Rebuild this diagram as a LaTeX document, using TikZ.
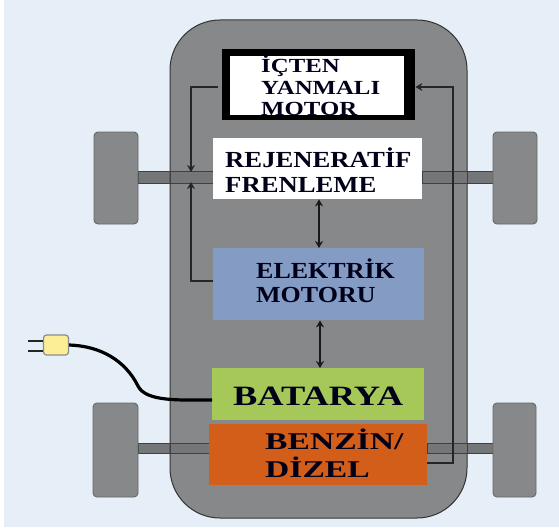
\documentclass[tikz,border=0pt]{standalone}
\usepackage{fontspec}
\setmainfont{Liberation Serif}
\usetikzlibrary{arrows.meta}
\definecolor{pagebg}{HTML}{E6EEF8}
\definecolor{carbody}{HTML}{878889}
\definecolor{motorblue}{HTML}{849BC4}
\definecolor{batgreen}{HTML}{A6C859}
\definecolor{fuelorange}{HTML}{D35E1A}
\definecolor{plugyellow}{HTML}{FBEE96}
\tikzset{
  part/.style={inner sep=0pt,anchor=north west},
  wheel/.style={draw=black!60,fill=carbody,rounded corners=4pt,line width=0.9pt},
  axle/.style={draw=black!75,fill=carbody!115,line width=1pt},
  wire/.style={line width=1.1pt,black!85},
  flow/.style={-{Stealth[length=7pt,width=8pt]},wire},
  both/.style={{Stealth[length=7pt,width=8pt]}-{Stealth[length=7pt,width=8pt]},line width=1.3pt,black!90},
  labeltext/.style n args={3}{font=\bfseries\fontsize{#1}{#2}\selectfont\addfontfeatures{FakeStretch=#3},align=left,anchor=west,text=black!90!blue,inner sep=0pt}
}
\begin{document}
\begin{tikzpicture}[x=1pt,y=-1pt]
\useasboundingbox (0,0) rectangle (559,532);
\fill[pagebg] (4,0) rectangle (559,527);
\draw[axle] (138,171) rectangle (214,183);
\draw[axle] (422,171) rectangle (493,183);
\draw[axle] (138,443) rectangle (210,453);
\draw[axle] (427,443) rectangle (493,453);
\draw[wheel] (94,132) rectangle (138,224);
\draw[wheel] (493,132) rectangle (537,224);
\draw[wheel] (93,403) rectangle (138,497);
\draw[wheel] (493,403) rectangle (536,497);
\draw[draw=black!80,fill=carbody,line width=1pt,rounded corners=50pt] (170,20) rectangle (467,518);
\draw[axle] (170,171) rectangle (214,183);
\draw[axle] (422,171) rectangle (467,183);
\draw[axle] (170,443) rectangle (210,453);
\draw[axle] (427,443) rectangle (467,453);
\node[part,fill=black,minimum width=193pt,minimum height=71pt] (engine) at (222,49) {};
\node[part,fill=white,minimum width=174pt,minimum height=59pt] (engineinner) at (230,56) {};
\node[part,fill=white,minimum width=209pt,minimum height=61pt] (regen) at (213,138) {};
\node[part,fill=motorblue,minimum width=211pt,minimum height=72pt] (motor) at (213,248) {};
\node[part,fill=batgreen,minimum width=212pt,minimum height=52pt] (battery) at (212,368) {};
\node[part,fill=fuelorange,minimum width=218pt,minimum height=61pt] (fuel) at (209,424) {};
\node[labeltext={20}{21.5}{1.24}] (enginetext) at (261,86) {İÇTEN\\YANMALI\\MOTOR};
\node[labeltext={23}{25}{1.16}] (regentext) at (225,170.5) {REJENERATİF\\FRENLEME};
\node[labeltext={23}{24.5}{1.13}] (motortext) at (256,281) {ELEKTRİK\\MOTORU};
\node[labeltext={28}{28}{1.3}] (batterytext) at (233,396) {BATARYA};
\node[labeltext={24}{28}{1.4}] (fueltext) at (265,453) {BENZİN/\\DİZEL};
\coordinate (axleup) at (191,172);
\coordinate (axledown) at (191,182);
\coordinate (leftwiretop) at (191,87);
\coordinate (leftwirebot) at (191,281);
\coordinate (rightwiretop) at (453,87);
\coordinate (rightwirebot) at (453,463);
\coordinate (enginegap) at (218,87);
\draw[flow] (enginegap) -- (leftwiretop) -- (axleup);
\draw[flow] (motor.west |- leftwirebot) -- (leftwirebot) -- (axledown);
\draw[flow] (fuel.east |- rightwirebot) -- (rightwirebot) -- (rightwiretop) -- (engine.east |- rightwiretop);
\coordinate (upperarrow) at (319,0);
\coordinate (lowerarrow) at (320,0);
\draw[both] (regen.south -| upperarrow) -- (motor.north -| upperarrow);
\draw[both] (motor.south -| lowerarrow) -- (battery.north -| lowerarrow);
\node[draw=black!45,fill=plugyellow,rounded corners=3pt,line width=1.2pt,inner sep=0pt,minimum width=25pt,minimum height=20pt] (plug) at (56,345) {};
\coordinate (prongA) at (28,341);
\coordinate (prongB) at (28,351);
\draw[wire] (prongA) -- (prongA -| plug.west) (prongB) -- (prongB -| plug.west);
\coordinate (cablein) at (0,400);
\draw[line width=3.2pt,black] (plug.east) .. controls (100,346) and (125,360) .. (138,386) .. controls (146,402) and (180,400) .. (battery.west |- cablein);
\end{tikzpicture}
\end{document}
